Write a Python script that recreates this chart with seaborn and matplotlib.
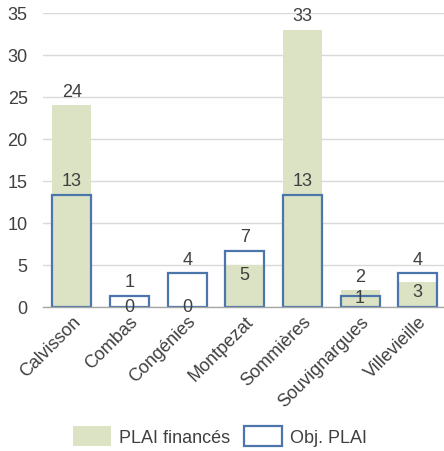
import matplotlib
matplotlib.use("Agg")
import matplotlib.pyplot as plt
from matplotlib.patches import Patch
import seaborn as sns
import pandas as pd

# Housing programme: financed PLAI units vs. PLAI objectives per commune
communes = ["Calvisson", "Combas", "Congénies", "Montpezat", "Sommières",
            "Souvignargues", "Villevieille"]
plai_finances = [24, 0, 0, 5, 33, 2, 3]
obj_plai = [13.33, 1.33, 4.0, 6.67, 13.33, 1.33, 4.0]
y_ticks = [0, 5, 10, 15, 20, 25, 30, 35]

GREEN = "#dbe3c4"
BLUE = "#4a76ab"
TEXT = "#404040"
FS = 13

sns.set_theme(style="white")
plt.rcParams["font.family"] = ["Liberation Sans", "DejaVu Sans"]

df = pd.DataFrame({"commune": communes, "fin": plai_finances, "obj": obj_plai})

fig = plt.figure(figsize=(4.44, 4.52), dpi=100)
ax = fig.add_axes([43 / 444, 1 - 308 / 452, 403.6 / 444, 294 / 452])

sns.barplot(data=df, x="commune", y="fin", color=GREEN, width=0.68,
            saturation=1, linewidth=0, ax=ax, zorder=2)
sns.barplot(data=df, x="commune", y="obj", color=BLUE, width=0.68,
            saturation=1, fill=False, linewidth=1.6, ax=ax, zorder=3)

ax.set_xlim(-0.5, len(communes) - 0.5)
ax.set_ylim(0, 35)
ax.set_yticks(y_ticks)
ax.set_xlabel("")
ax.set_ylabel("")
ax.yaxis.grid(True, color="#d9d9d9", linewidth=1.0, zorder=0)
ax.set_axisbelow(True)
for side in ("left", "right", "top"):
    ax.spines[side].set_visible(False)
ax.spines["bottom"].set_color("#a6a6a6")
ax.spines["bottom"].set_linewidth(1.0)
ax.spines["bottom"].set_zorder(4)
ax.tick_params(axis="y", length=0, pad=11, labelsize=FS, labelcolor=TEXT)
ax.tick_params(axis="x", length=0, pad=4, labelsize=FS, labelcolor=TEXT)
plt.setp(ax.get_xticklabels(), rotation=45, ha="right", va="top",
         rotation_mode="anchor")

# Data labels
for i, (g, o) in enumerate(zip(plai_finances, obj_plai)):
    if g == 0:
        ax.annotate(f"{g:.0f}", (i, 0), xytext=(0, 0), textcoords="offset points",
                    ha="center", va="center", fontsize=FS, color=TEXT, zorder=5)
    elif g > o:
        ax.annotate(f"{g:.0f}", (i, g), xytext=(0, 4), textcoords="offset points",
                    ha="center", va="bottom", fontsize=FS, color=TEXT, zorder=5)
    else:
        ax.annotate(f"{g:.0f}", (i, g), xytext=(0, -1), textcoords="offset points",
                    ha="center", va="top", fontsize=FS, color=TEXT, zorder=5)

    if g > o and g - o < 2:
        ax.annotate(f"{o:.0f}", (i, o), xytext=(0, -1), textcoords="offset points",
                    ha="center", va="center", fontsize=FS, color=TEXT, zorder=5)
    else:
        ax.annotate(f"{o:.0f}", (i, o), xytext=(0, 4), textcoords="offset points",
                    ha="center", va="bottom", fontsize=FS, color=TEXT, zorder=5)

handles = [Patch(facecolor=GREEN, edgecolor="none", label="PLAI financés"),
           Patch(facecolor="white", edgecolor=BLUE, linewidth=1.6, label="Obj. PLAI")]
fig.legend(handles=handles, loc="center", bbox_to_anchor=(220 / 444, 1 - 437 / 452),
           ncol=2, frameon=False, fontsize=FS, labelcolor=TEXT,
           handlelength=2.1, handleheight=1.3, handletextpad=0.45,
           columnspacing=0.8)

fig.savefig("out.png", dpi=100, facecolor="white")
